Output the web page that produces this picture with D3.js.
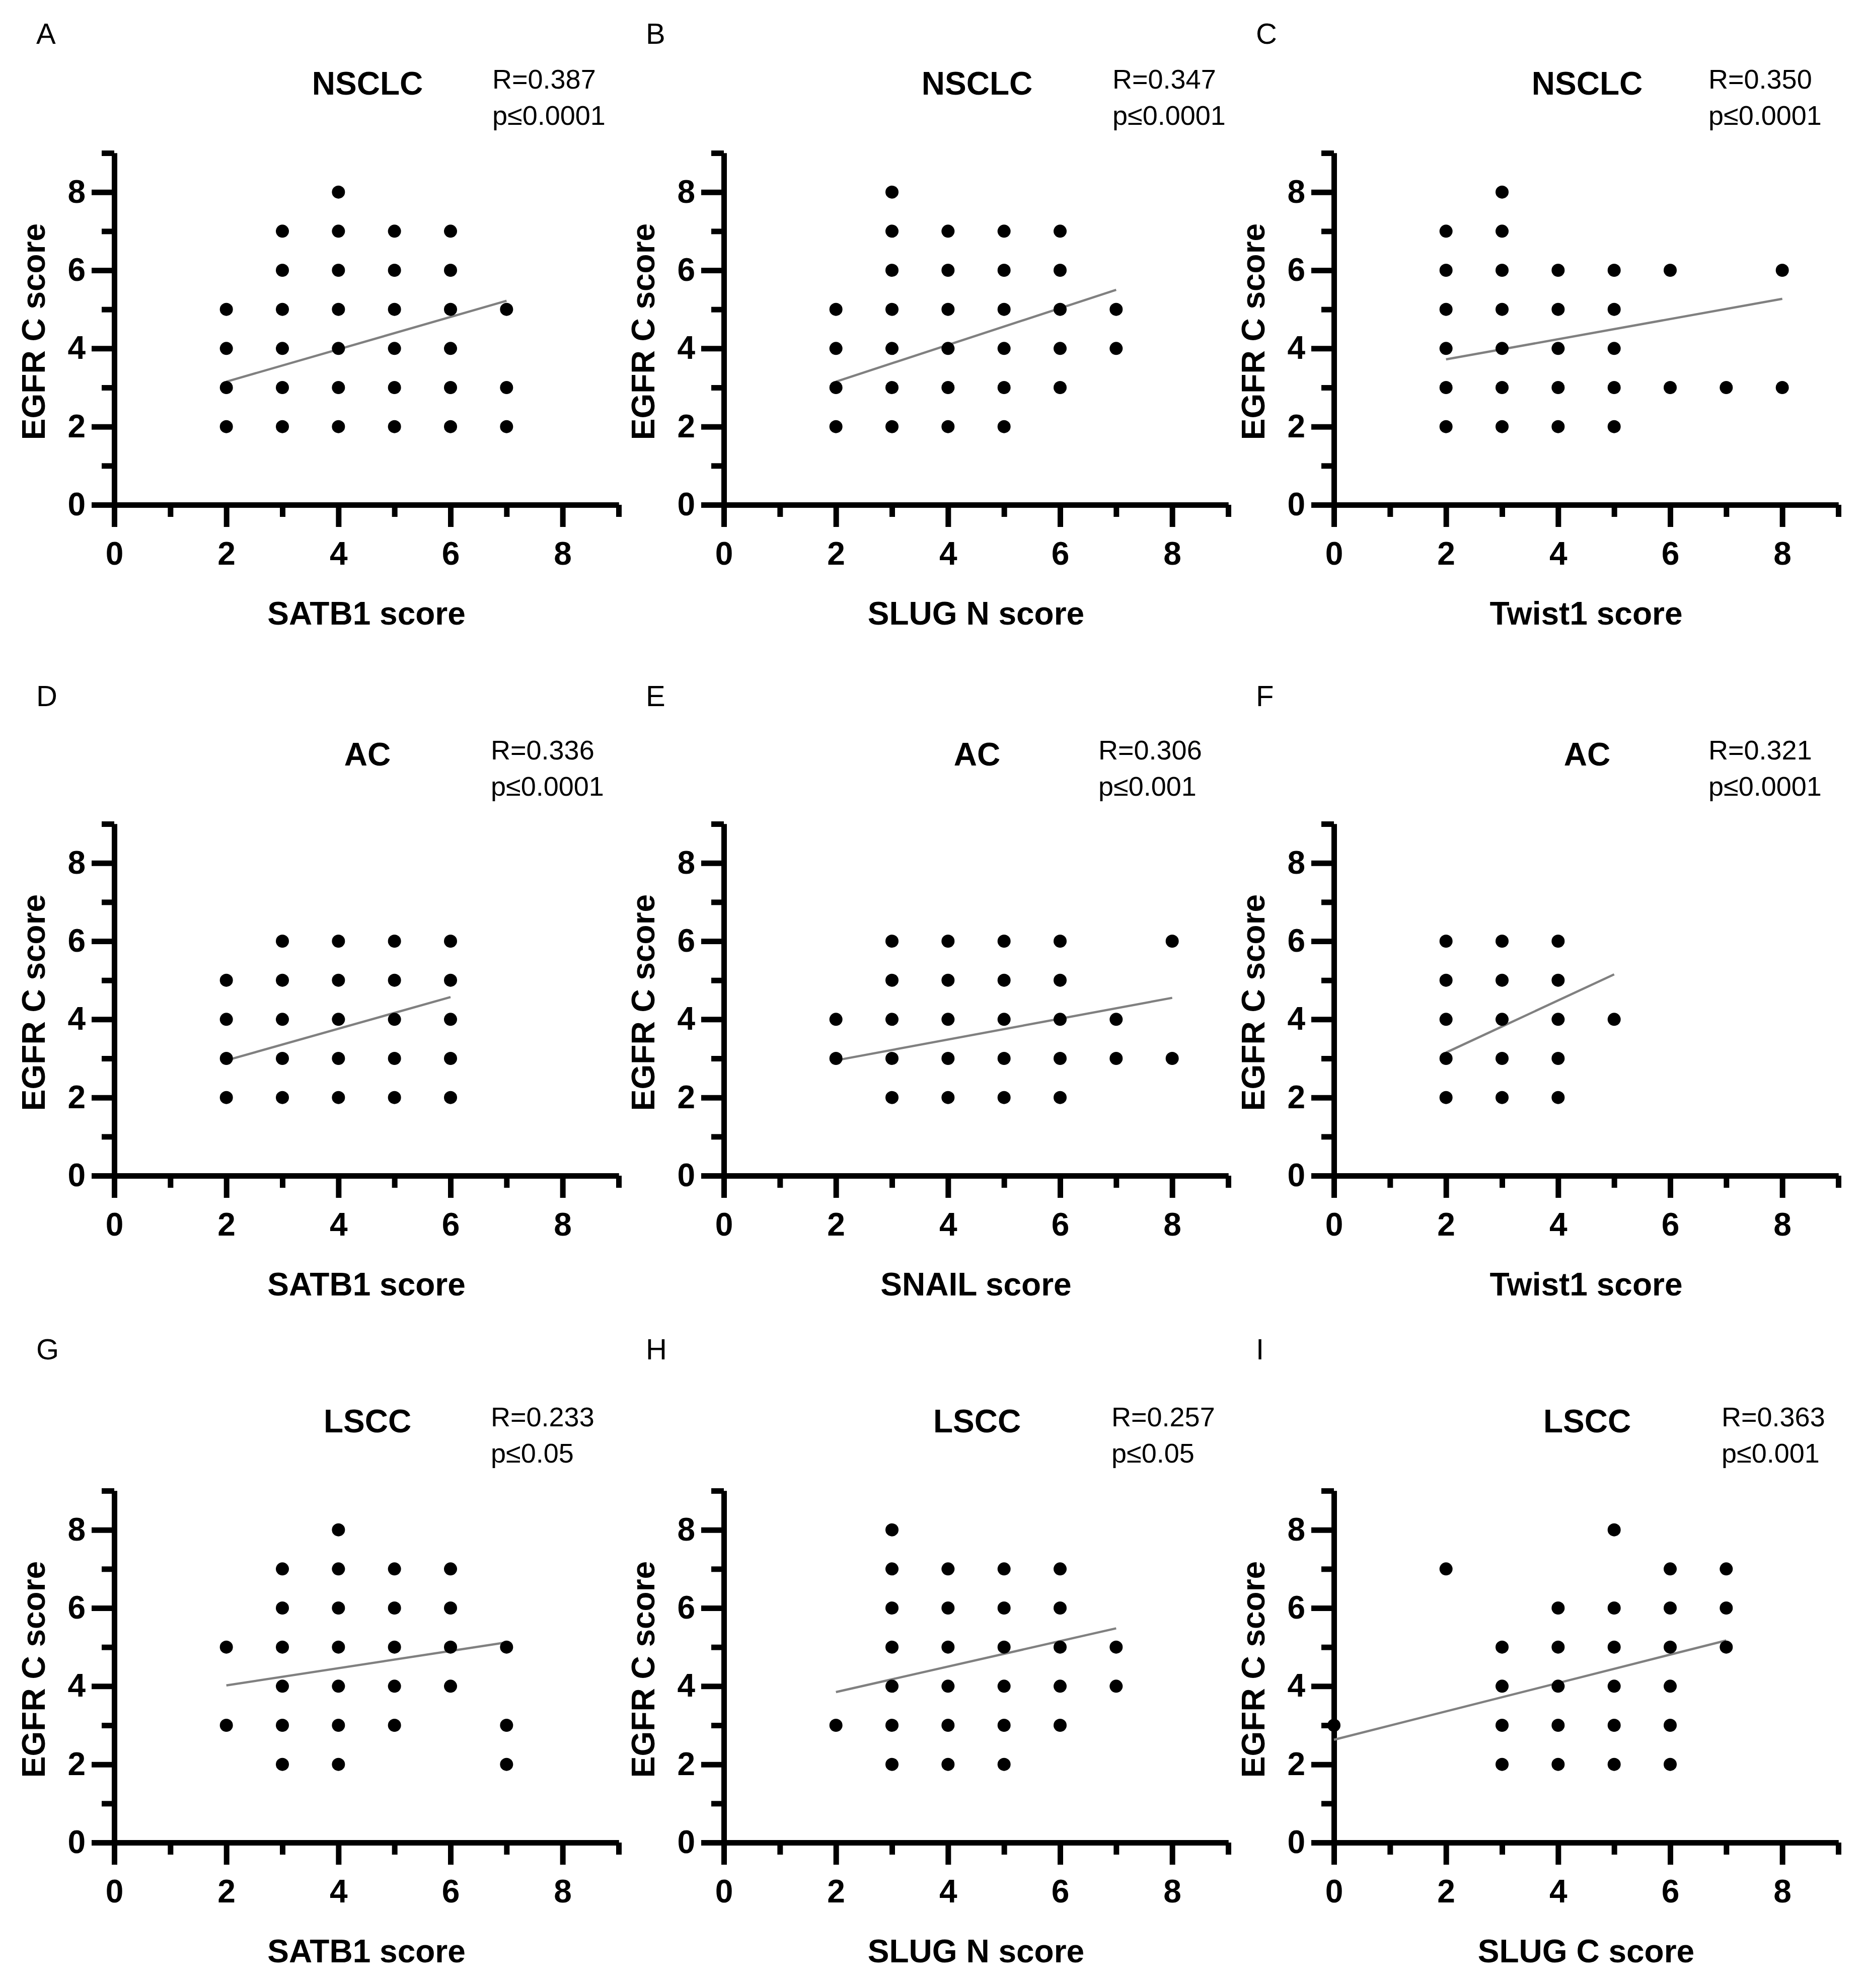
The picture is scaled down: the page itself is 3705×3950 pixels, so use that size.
<!DOCTYPE html>
<html>
<head>
<meta charset="utf-8">
<script src="https://cdn.jsdelivr.net/npm/d3@7"></script>
<style>
  body { margin: 0; background: #fff; }
  svg { display: block; }
  text { font-family: "Liberation Sans", Arial, sans-serif; }
</style>
</head>
<body>
<div id="chart"></div>
<script>
// panel labels and texts
const letters = ['A', 'B', 'C', 'D', 'E', 'F', 'G', 'H', 'I'];
const titles = ['NSCLC', 'NSCLC', 'NSCLC', 'AC', 'AC', 'AC', 'LSCC', 'LSCC', 'LSCC'];
const xTitles = ['SATB1 score', 'SLUG N score', 'Twist1 score',
                 'SATB1 score', 'SNAIL score', 'Twist1 score',
                 'SATB1 score', 'SLUG N score', 'SLUG C score'];
const yTitle = 'EGFR C score';
const rValues = ['R=0.387', 'R=0.347', 'R=0.350', 'R=0.336', 'R=0.306', 'R=0.321', 'R=0.233', 'R=0.257', 'R=0.363'];
const pValues = ['p≤0.0001', 'p≤0.0001', 'p≤0.0001', 'p≤0.0001', 'p≤0.001', 'p≤0.0001', 'p≤0.05', 'p≤0.05', 'p≤0.001'];

const majorTicks = [0, 2, 4, 6, 8];
const minorTicks = [1, 3, 5, 7, 9];

// scores: [x score, [EGFR C scores seen at that x]]
const pointsA = [[2, [2, 3, 4, 5]], [3, [2, 3, 4, 5, 6, 7]], [4, [2, 3, 4, 5, 6, 7, 8]], [5, [2, 3, 4, 5, 6, 7]], [6, [2, 3, 4, 5, 6, 7]], [7, [2, 3, 5]]];
const pointsB = [[2, [2, 3, 4, 5]], [3, [2, 3, 4, 5, 6, 7, 8]], [4, [2, 3, 4, 5, 6, 7]], [5, [2, 3, 4, 5, 6, 7]], [6, [3, 4, 5, 6, 7]], [7, [4, 5]]];
const pointsC = [[2, [2, 3, 4, 5, 6, 7]], [3, [2, 3, 4, 5, 6, 7, 8]], [4, [2, 3, 4, 5, 6]], [5, [2, 3, 4, 5, 6]], [6, [3, 6]], [7, [3]], [8, [3, 6]]];
const pointsD = [[2, [2, 3, 4, 5]], [3, [2, 3, 4, 5, 6]], [4, [2, 3, 4, 5, 6]], [5, [2, 3, 4, 5, 6]], [6, [2, 3, 4, 5, 6]]];
const pointsE = [[2, [3, 4]], [3, [2, 3, 4, 5, 6]], [4, [2, 3, 4, 5, 6]], [5, [2, 3, 4, 5, 6]], [6, [2, 3, 4, 5, 6]], [7, [3, 4]], [8, [3, 6]]];
const pointsF = [[2, [2, 3, 4, 5, 6]], [3, [2, 3, 4, 5, 6]], [4, [2, 3, 4, 5, 6]], [5, [4]]];
const pointsG = [[2, [3, 5]], [3, [2, 3, 4, 5, 6, 7]], [4, [2, 3, 4, 5, 6, 7, 8]], [5, [3, 4, 5, 6, 7]], [6, [4, 5, 6, 7]], [7, [2, 3, 5]]];
const pointsH = [[2, [3]], [3, [2, 3, 4, 5, 6, 7, 8]], [4, [2, 3, 4, 5, 6, 7]], [5, [2, 3, 4, 5, 6, 7]], [6, [3, 4, 5, 6, 7]], [7, [4, 5]]];
const pointsI = [[0, [3]], [2, [7]], [3, [2, 3, 4, 5]], [4, [2, 3, 4, 5, 6]], [5, [2, 3, 4, 5, 6, 8]], [6, [2, 3, 4, 5, 6, 7]], [7, [5, 6, 7]]];
const allPoints = [pointsA, pointsB, pointsC, pointsD, pointsE, pointsF, pointsG, pointsH, pointsI];

// linear fit end points [[x1, y1], [x2, y2]]
const fitLines = [
  [[2, 3.15], [7, 5.22]],
  [[2, 3.15], [7, 5.50]],
  [[2, 3.72], [8, 5.27]],
  [[2, 2.95], [6, 4.57]],
  [[2, 2.95], [8, 4.55]],
  [[2, 3.15], [5, 5.15]],
  [[2, 4.02], [7, 5.12]],
  [[2, 3.85], [7, 5.48]],
  [[0, 2.63], [7, 5.17]]
];

// layout
const width = 3705;
const height = 3950;
const colX = [227, 1438, 2650];
const rowY = [1003, 2336, 3661];
const letterBase = [916, 933, 960];
const statX = [751, 772, 744, 748, 744, 744, 748, 770, 770];
const plotW = 1002;
const plotH = 699;
const bold = 64;

const svg = d3.select('#chart')
  .append('svg')
  .attr('width', width)
  .attr('height', height);

letters.forEach((letter, i) => {
  const col = i % 3;
  const row = Math.floor(i / 3);
  const ox = colX[col];
  const oy = rowY[row];

  const x = d3.scaleLinear().domain([0, 9]).range([0, plotW]);
  const y = d3.scaleLinear().domain([0, 9]).range([0, -plotH]);

  const g = svg.append('g').attr('transform', `translate(${ox},${oy})`);

  // panel letter
  g.append('text')
    .attr('x', -155)
    .attr('y', -letterBase[row])
    .style('font-size', '58px')
    .text(letter);

  // title and statistics
  g.append('text')
    .attr('x', 503)
    .attr('y', -815)
    .attr('text-anchor', 'middle')
    .style('font-size', bold + 'px')
    .style('font-weight', 'bold')
    .text(titles[i]);

  g.append('text')
    .attr('x', statX[i])
    .attr('y', -827)
    .style('font-size', '54px')
    .text(rValues[i]);

  g.append('text')
    .attr('x', statX[i])
    .attr('y', -755)
    .style('font-size', '54px')
    .text(pValues[i]);

  // axes: major ticks with labels, minor ticks without
  const styleAxis = sel => {
    sel.selectAll('path, line')
      .attr('stroke', '#000')
      .attr('stroke-width', 11);
    sel.selectAll('text')
      .attr('fill', '#000')
      .style('font-size', bold + 'px')
      .style('font-weight', 'bold')
      .style('font-family', '"Liberation Sans", Arial, sans-serif');
  };

  g.append('g')
    .call(d3.axisBottom(x).tickValues(majorTicks).tickSize(44).tickSizeOuter(0).tickPadding(30))
    .call(styleAxis);
  g.append('g')
    .call(d3.axisBottom(x).tickValues(minorTicks).tickSize(24).tickSizeOuter(0).tickFormat(''))
    .call(styleAxis);

  g.append('g')
    .call(d3.axisLeft(y).tickValues(majorTicks).tickSize(45).tickSizeOuter(0).tickPadding(12))
    .call(styleAxis);
  g.append('g')
    .call(d3.axisLeft(y).tickValues(minorTicks).tickSize(25).tickSizeOuter(0).tickFormat(''))
    .call(styleAxis);

  g.selectAll('.domain').attr('stroke-linecap', 'butt');

  // axis titles
  g.append('text')
    .attr('x', 501)
    .attr('y', 238)
    .attr('text-anchor', 'middle')
    .style('font-size', bold + 'px')
    .style('font-weight', 'bold')
    .text(xTitles[i]);

  g.append('text')
    .attr('transform', `translate(-138,${-344}) rotate(-90)`)
    .attr('text-anchor', 'middle')
    .style('font-size', bold + 'px')
    .style('font-weight', 'bold')
    .text(yTitle);

  // fit line
  const fit = fitLines[i];
  g.append('line')
    .attr('x1', x(fit[0][0]))
    .attr('y1', y(fit[0][1]))
    .attr('x2', x(fit[1][0]))
    .attr('y2', y(fit[1][1]))
    .attr('stroke', '#808080')
    .attr('stroke-width', 4.5);

  // points
  const pts = allPoints[i].flatMap(([sx, ys]) => ys.map(sy => ({ sx, sy })));
  g.selectAll('circle.pt')
    .data(pts)
    .enter()
    .append('circle')
    .attr('class', 'pt')
    .attr('cx', d => x(d.sx))
    .attr('cy', d => y(d.sy))
    .attr('r', 13)
    .attr('fill', '#000');
});
</script>
</body>
</html>
